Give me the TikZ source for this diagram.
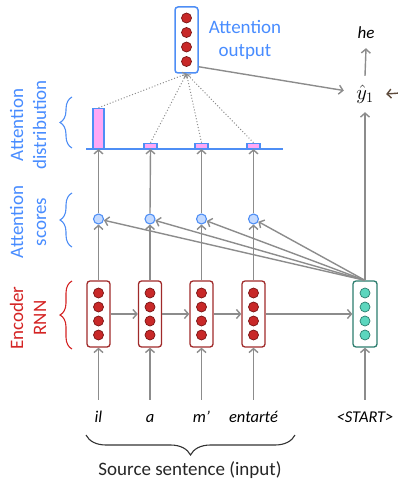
\documentclass[tikz,border=0pt]{standalone}
\usepackage{fontspec}
\setmainfont{Carlito}
\usepackage{amsmath}
\usetikzlibrary{arrows.meta,decorations.pathreplacing,calc}
\definecolor{lblue}{RGB}{72,140,255}
\definecolor{bstroke}{RGB}{78,142,245}
\definecolor{sfill}{RGB}{196,218,255}
\definecolor{pinkfill}{RGB}{255,168,245}
\definecolor{lred}{RGB}{212,36,36}
\definecolor{boxred}{RGB}{160,42,42}
\definecolor{dotred}{RGB}{200,40,40}
\definecolor{dotredline}{RGB}{120,20,20}
\definecolor{tealline}{RGB}{44,125,110}
\definecolor{tealfill}{RGB}{92,214,190}
\definecolor{agray}{RGB}{140,140,140}
\definecolor{brownarr}{RGB}{94,75,60}
\begin{document}
\begin{tikzpicture}[x=1pt,y=-1pt,
  arr/.style={draw=agray, line width=1.4pt, -{Straight Barb[length=4pt,width=9pt,line width=1.4pt]}},
  dotarr/.style={draw=agray, line width=1pt, dotted, -{Straight Barb[length=3pt,width=6pt,line width=0.9pt]}},
  encbox/.style={draw=boxred, line width=1.3pt, rounded corners=3pt, fill=white, minimum width=23pt, minimum height=66pt, inner sep=0pt},
  decbox/.style={draw=tealline, line width=1.3pt, rounded corners=3pt, fill=white, minimum width=24pt, minimum height=66pt, inner sep=0pt},
  outbox/.style={draw=bstroke, line width=1.5pt, rounded corners=3pt, fill=white, minimum width=23pt, minimum height=66pt, inner sep=0pt},
  rdot/.style={fill=dotred, draw=dotredline, line width=0.7pt},
  tdot/.style={fill=tealfill, draw=tealline, line width=0.7pt},
  score/.style={circle, draw=bstroke, fill=sfill, line width=1.1pt, minimum size=10pt, inner sep=0pt},
  bar/.style={draw=bstroke, fill=pinkfill, line width=1.3pt, inner sep=0pt, anchor=south},
  word/.style={font=\fontsize{16.5}{19}\selectfont\itshape, anchor=base, text height=12pt, text depth=4pt, inner ysep=10pt, inner xsep=0pt},
  lbl/.style={font=\fontsize{19}{23}\selectfont, align=center, rotate=90},
  lbrace/.style={decorate, decoration={brace, amplitude=12pt}, line width=1.1pt},
]
\useasboundingbox (0,0) rectangle (397,481);

% encoder boxes
\foreach \i/\x in {1/98.5,2/150,3/201.5,4/253.5}{
  \node[encbox] (e\i) at (\x,314) {};
  \foreach \d in {-21,-7,7,21} \draw[rdot] (\x,314+\d) circle (5pt);
}
% decoder box
\node[decbox] (dec) at (365,314) {};
\foreach \d in {-21,-7,7,21} \draw[tdot] (365,314+\d) circle (5pt);

% attention output box
\node[outbox] (attn) at (186.5,40) {};
\foreach \d in {-22,-7.5,7,21.5} \draw[rdot] (186.5,40+\d) circle (5pt);

\node[font=\fontsize{19}{23}\selectfont, text=lblue, align=center] (attnlbl) at (245,40) {Attention\\output};

% words
\node[word] (w1) at (98.5,422) {il};
\node[word] (w2) at (150,422) {a};
\node[word] (w3) at (201.5,422) {m’};
\node[word] (w4) at (253.5,422) {entarté};
\node[word] (w5) at (365,422) {<START>};

% scores
\foreach \i/\x in {1/98.5,2/150,3/201.5,4/253.5}
  \node[score] (s\i) at (\x,219) {};

% baseline and bars
\coordinate (bl1) at (86,149);
\coordinate (bl2) at (283,149);
\draw[draw=bstroke, line width=1.5pt] (bl1) -- (bl2);
\node[bar, minimum width=11pt, minimum height=40pt] (b1) at (98.5,149) {};
\node[bar, minimum width=13pt, minimum height=5pt] (b2) at (150.5,149) {};
\node[bar, minimum width=13pt, minimum height=5pt] (b3) at (201.5,149) {};
\node[bar, minimum width=13pt, minimum height=5pt] (b4) at (253.5,149) {};

% output nodes
\node[minimum width=42pt, minimum height=36pt, inner sep=0pt, font=\fontsize{21}{24}\selectfont] (yhat) at (365,94) {$\hat{y}_1$};
\node[inner ysep=9pt, font=\fontsize{17}{20}\selectfont\itshape] (he) at (366,33) {he};
\coordinate (rt) at (400,93);

% arrows words -> encoder
\foreach \i in {1,2,3,4} \draw[arr] (w\i.north) -- (e\i.south);
\draw[arr] (w5.north) -- (dec.south);
% encoder horizontal
\draw[arr] (e1.east) -- (e2.west);
\draw[arr] (e2.east) -- (e3.west);
\draw[arr] (e3.east) -- (e4.west);
\draw[arr] (e4.east) -- (dec.west);
% encoder -> scores
\foreach \i in {1,2,3,4} \draw[arr] (e\i.north) -- (s\i.south);
% scores -> bars
\foreach \i in {1,2,3,4} \draw[arr] (s\i.north) -- (b\i.south);
% decoder -> scores
\foreach \i in {1,2,3,4} \draw[arr] (dec.north) -- (s\i);
% dotted
\draw[dotarr] (b1.north) -- (attn.south);
\foreach \i in {2,3,4} \draw[dotarr] (b\i.north) -- (attn.south);
% attention output -> yhat
\draw[arr] ([yshift=7pt]attn.south east) -- (yhat);
\draw[arr] (dec.north) -- (yhat.south);
\draw[arr] (yhat.north) -- (he.south);
\draw[draw=brownarr, line width=1.4pt, -{Straight Barb[length=4pt,width=9pt,line width=1.4pt]}] (rt) -- (yhat.east);

% left braces and labels
\draw[lbrace, draw=bstroke] (72,148) -- (72,97);
\draw[lbrace, draw=bstroke] (72,247) -- (72,193);
\draw[lbrace, draw=lred] (72,349) -- (72,281);
\node[lbl, text=lblue] (ldist) at (28,125) {Attention\\distribution};
\node[lbl, text=lblue] (lscore) at (28,222) {Attention\\scores};
\node[lbl, text=lred] (lenc) at (28,318) {Encoder\\RNN};

% bottom brace
\draw[decorate, decoration={brace, amplitude=20pt}, line width=1.1pt, draw=black!80] (295,435) -- (86,435);
\node[font=\fontsize{19}{23}\selectfont, text=black!85] (src) at (190,470) {Source sentence (input)};
\end{tikzpicture}
\end{document}
